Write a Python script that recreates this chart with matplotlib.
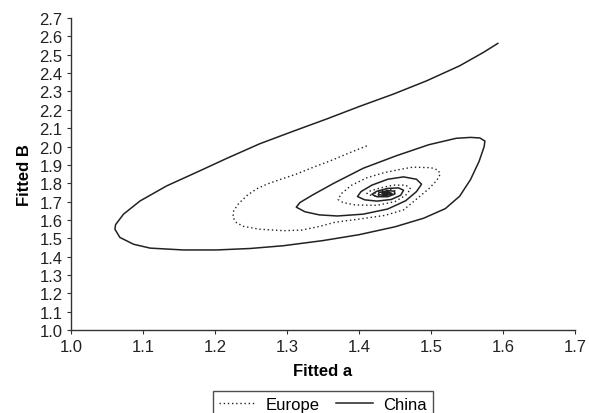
import numpy as np
import matplotlib.pyplot as plt

plt.rcParams['font.family'] = ['Liberation Sans', 'DejaVu Sans']

# Europe (dotted), starting at the upper end
europe_a = [1.411, 1.385, 1.360, 1.335, 1.313, 1.290, 1.272, 1.258, 1.245, 1.233,
            1.226, 1.225, 1.230, 1.240, 1.262, 1.295, 1.320, 1.345, 1.367, 1.400,
            1.436, 1.462, 1.480, 1.497, 1.508, 1.513, 1.510, 1.500, 1.475, 1.459,
            1.435, 1.411, 1.390, 1.376, 1.371, 1.378, 1.395, 1.425, 1.450, 1.465,
            1.472, 1.465, 1.448, 1.430, 1.415, 1.411, 1.418, 1.435, 1.448, 1.452,
            1.445, 1.432, 1.422, 1.426, 1.438, 1.444, 1.439, 1.431, 1.433, 1.439,
            1.437]
europe_b = [2.004, 1.963, 1.922, 1.885, 1.850, 1.820, 1.795, 1.770, 1.735, 1.690,
            1.650, 1.614, 1.585, 1.565, 1.550, 1.542, 1.545, 1.565, 1.588, 1.605,
            1.625, 1.655, 1.714, 1.770, 1.815, 1.850, 1.872, 1.885, 1.888, 1.877,
            1.858, 1.830, 1.790, 1.745, 1.712, 1.695, 1.682, 1.680, 1.700, 1.735,
            1.770, 1.790, 1.790, 1.775, 1.757, 1.745, 1.732, 1.728, 1.740, 1.757,
            1.765, 1.760, 1.748, 1.737, 1.736, 1.746, 1.753, 1.748, 1.741, 1.743,
            1.747]

# China (solid), starting at the upper right end
china_a = [1.593, 1.573, 1.540, 1.494, 1.448, 1.401, 1.355, 1.309, 1.262, 1.216,
           1.179, 1.133, 1.096, 1.073, 1.062, 1.061, 1.068, 1.087, 1.110, 1.156,
           1.202, 1.249, 1.295, 1.350, 1.400, 1.450, 1.490, 1.520, 1.540, 1.555,
           1.567, 1.574, 1.575, 1.568, 1.555, 1.535, 1.497, 1.452, 1.406, 1.365,
           1.335, 1.318, 1.313, 1.325, 1.345, 1.370, 1.406, 1.440, 1.465, 1.480,
           1.487, 1.480, 1.462, 1.440, 1.418, 1.403, 1.398, 1.408, 1.425, 1.445,
           1.458, 1.462, 1.455, 1.440, 1.425, 1.418, 1.425, 1.440, 1.450, 1.449,
           1.440, 1.428, 1.427, 1.437, 1.446, 1.441, 1.432, 1.434, 1.441, 1.438,
           1.435]
china_b = [2.562, 2.513, 2.440, 2.358, 2.286, 2.219, 2.150, 2.084, 2.015, 1.935,
           1.868, 1.786, 1.704, 1.632, 1.575, 1.550, 1.505, 1.468, 1.447, 1.437,
           1.437, 1.445, 1.460, 1.488, 1.520, 1.563, 1.610, 1.662, 1.730, 1.820,
           1.920, 2.000, 2.030, 2.047, 2.050, 2.045, 2.010, 1.950, 1.882, 1.800,
           1.735, 1.695, 1.670, 1.645, 1.628, 1.622, 1.632, 1.660, 1.705, 1.755,
           1.795, 1.822, 1.835, 1.822, 1.790, 1.755, 1.728, 1.710, 1.703, 1.712,
           1.735, 1.762, 1.775, 1.772, 1.757, 1.740, 1.727, 1.727, 1.742, 1.757,
           1.760, 1.750, 1.738, 1.734, 1.744, 1.752, 1.747, 1.739, 1.742, 1.747,
           1.743]

xticks = [1.0, 1.1, 1.2, 1.3, 1.4, 1.5, 1.6, 1.7]
yticks = [1.0, 1.1, 1.2, 1.3, 1.4, 1.5, 1.6, 1.7, 1.8, 1.9, 2.0, 2.1, 2.2, 2.3, 2.4, 2.5, 2.6, 2.7]

fig = plt.figure(figsize=(5.89, 4.14), dpi=100)
ax = fig.add_axes([0.1205, 0.200, 0.8555, 0.754])

ax.plot(europe_a, europe_b, color='#222222', lw=1.0, ls=(0, (1, 2)), label='Europe')
ax.plot(china_a, china_b, color='#222222', lw=1.1, label='China')

ax.set_xlim(1.0, 1.7)
ax.set_ylim(1.0, 2.7)
ax.set_xticks(xticks)
ax.set_yticks(yticks)
ax.set_xticklabels(['%.1f' % v for v in xticks])
ax.set_yticklabels(['%.1f' % v for v in yticks])
ax.tick_params(labelsize=12, length=3, width=0.8, color='#333333', labelcolor='#222222', pad=3)

for s in ['top', 'right']:
    ax.spines[s].set_visible(False)
for s in ['left', 'bottom']:
    ax.spines[s].set_linewidth(1.0)
    ax.spines[s].set_color('#333333')

ax.set_xlabel('Fitted a', fontsize=12, fontweight='bold', labelpad=7)
ax.set_ylabel('Fitted B', fontsize=12, fontweight='bold', labelpad=5)

leg = ax.legend(loc='upper center', bbox_to_anchor=(0.5, -0.195), ncol=2, frameon=True,
                fancybox=False, edgecolor='#222222', fontsize=12, handlelength=2.2,
                columnspacing=1.0, handletextpad=0.6, borderpad=0.35, borderaxespad=0)
leg.get_frame().set_linewidth(1.0)

fig.savefig('out.png', dpi=100)
